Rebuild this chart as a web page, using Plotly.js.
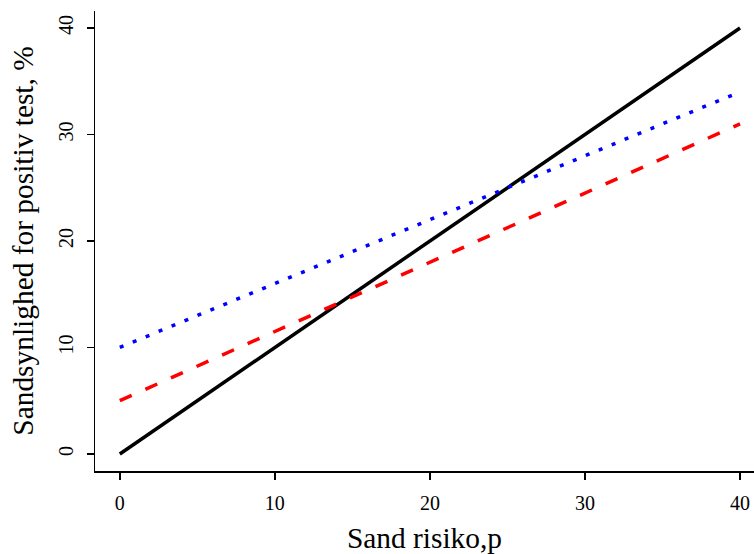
<!DOCTYPE html>
<html>
<head>
<meta charset="utf-8">
<script src="https://cdn.plot.ly/plotly-3.0.1.min.js"></script>
<style>html,body{margin:0;padding:0;background:#fff;}#chart{width:754px;height:554px;}</style>
</head>
<body>
<div id="chart"></div>
<script>
const risk = [0, 10, 20, 30, 40];
const perfect = [0, 10, 20, 30, 40];
const testA = [5, 11.5, 18, 24.5, 31];
const testB = [10, 16, 22, 28, 34];
const xTicks = [0, 10, 20, 30, 40];
const yTicks = [0, 10, 20, 30, 40];

const font = 'Liberation Serif, Times New Roman, serif';
const traces = [
  {x: risk, y: perfect, mode: 'lines', line: {color: '#000000', width: 3.5}},
  {x: risk, y: testA, mode: 'lines', line: {color: '#ff0000', width: 3.5, dash: '13px,15px'}},
  {x: risk, y: testB, mode: 'lines', line: {color: '#0000ff', width: 3.5, dash: '4px,10px'}}
];
const layout = {
  width: 754, height: 554,
  margin: {l: 95, r: 0, t: 11, b: 83},
  paper_bgcolor: '#fff', plot_bgcolor: '#fff',
  showlegend: false,
  font: {family: font, color: '#000', size: 20},
  xaxis: {
    range: [-1.6, 40.9], tickvals: xTicks, ticktext: xTicks.map(String),
    showgrid: false, zeroline: false, showline: true, linecolor: '#000', linewidth: 1.5,
    ticks: 'outside', ticklen: 7, tickwidth: 1.5, tickcolor: '#000',
    tickfont: {family: font, size: 20}, ticklabelstandoff: 6,
    title: {text: 'Sand risiko,p', font: {family: font, size: 29.4}, standoff: 15}
  },
  yaxis: {
    range: [-1.6, 41.6], tickvals: yTicks, ticktext: yTicks.map(String),
    showgrid: false, zeroline: false, showline: true, linecolor: '#000', linewidth: 1.5,
    ticks: 'outside', ticklen: 7, tickwidth: 1.5, tickcolor: '#000', tickangle: -90,
    tickfont: {family: font, size: 20}, ticklabelstandoff: 6,
    title: {text: 'Sandsynlighed for positiv test, %', font: {family: font, size: 29.4}, standoff: 12}
  }
};
Plotly.newPlot('chart', traces, layout, {staticPlot: true, displayModeBar: false});
</script>
</body>
</html>
